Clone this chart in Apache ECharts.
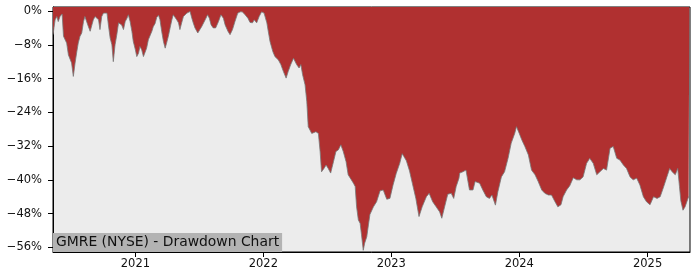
<!DOCTYPE html>
<html>
<head>
<meta charset="utf-8">
<script src="https://cdn.jsdelivr.net/npm/echarts@6/dist/echarts.min.js"></script>
<style>html,body{margin:0;padding:0;background:#fff;}#c{width:700px;height:280px;}</style>
</head>
<body>
<div id="c"></div>
<script>
const dates = [
'2020-05-11','2020-05-17','2020-05-22','2020-05-26','2020-05-31','2020-06-06','2020-06-10','2020-06-14','2020-06-19','2020-06-24',
'2020-06-29','2020-07-03','2020-07-08','2020-07-13','2020-07-18','2020-07-22','2020-07-27','2020-08-01','2020-08-06','2020-08-10',
'2020-08-15','2020-08-20','2020-08-25','2020-08-29','2020-09-03','2020-09-08','2020-09-13','2020-09-18','2020-09-22','2020-09-27',
'2020-10-02','2020-10-07','2020-10-12','2020-10-16','2020-10-21','2020-10-26','2020-10-30','2020-11-04','2020-11-09','2020-11-14',
'2020-11-18','2020-11-23','2020-11-28','2020-12-03','2020-12-08','2020-12-12','2020-12-17','2020-12-22','2020-12-26',
'2021-01-01','2021-01-05','2021-01-10','2021-01-14','2021-01-19','2021-01-24','2021-01-29','2021-02-02','2021-02-07','2021-02-12',
'2021-02-17','2021-02-21','2021-02-26','2021-03-03','2021-03-08','2021-03-12','2021-03-17','2021-03-22','2021-03-27','2021-03-31',
'2021-04-05','2021-04-10','2021-04-15','2021-04-19','2021-04-24','2021-04-29','2021-05-04','2021-05-08','2021-05-13','2021-05-18',
'2021-05-23','2021-05-28','2021-06-01','2021-06-06','2021-06-11','2021-06-15','2021-06-20','2021-06-28','2021-07-04','2021-07-09',
'2021-07-19','2021-07-26','2021-07-31','2021-08-05','2021-08-11','2021-08-18','2021-08-26','2021-09-02','2021-09-09','2021-09-14',
'2021-09-22','2021-09-28','2021-10-05','2021-10-12','2021-10-20','2021-10-27','2021-11-02','2021-11-10','2021-11-18','2021-11-24',
'2021-12-01','2021-12-06','2021-12-13','2021-12-20','2021-12-27',
'2022-01-01','2022-01-03','2022-01-11','2022-01-15','2022-01-20','2022-01-28','2022-02-03','2022-02-13','2022-02-20','2022-02-27',
'2022-03-07','2022-03-13','2022-03-20','2022-03-28','2022-04-01','2022-04-06','2022-04-13','2022-04-18','2022-04-23','2022-04-30',
'2022-05-05','2022-05-09','2022-05-14','2022-05-19','2022-05-24','2022-05-31','2022-06-07','2022-06-12','2022-06-16','2022-06-23',
'2022-06-29','2022-07-05','2022-07-12','2022-07-20','2022-07-27','2022-08-03','2022-08-10','2022-08-17','2022-08-25','2022-08-31',
'2022-09-05','2022-09-15','2022-09-20','2022-09-24','2022-09-29','2022-10-04','2022-10-08','2022-10-13','2022-10-17','2022-10-23',
'2022-10-28','2022-11-01','2022-11-11','2022-11-20','2022-11-30','2022-12-09','2022-12-19','2022-12-28',
'2023-01-06','2023-01-15','2023-01-25','2023-02-01','2023-02-06','2023-02-13','2023-02-22','2023-03-02','2023-03-12','2023-03-21',
'2023-03-30','2023-04-11','2023-04-19','2023-04-29','2023-05-09','2023-05-19','2023-05-25','2023-06-02','2023-06-11','2023-06-21',
'2023-06-28','2023-07-05','2023-07-13','2023-07-15','2023-07-24','2023-08-02','2023-08-12','2023-08-22','2023-08-28','2023-09-10',
'2023-09-19','2023-09-29','2023-10-08','2023-10-15','2023-10-25','2023-11-01','2023-11-11','2023-11-20','2023-11-30','2023-12-09',
'2023-12-19','2023-12-24',
'2024-01-01','2024-01-08','2024-01-17','2024-01-27','2024-02-05','2024-02-15','2024-02-24','2024-03-05','2024-03-14','2024-03-24',
'2024-04-02','2024-04-12','2024-04-20','2024-04-29','2024-05-05','2024-05-15','2024-05-24','2024-06-03','2024-06-13','2024-06-22',
'2024-07-01','2024-07-11','2024-07-20','2024-07-30','2024-08-09','2024-08-18','2024-08-28','2024-09-06','2024-09-16','2024-09-25',
'2024-10-05','2024-10-14','2024-10-24','2024-11-02','2024-11-12','2024-11-21','2024-12-01','2024-12-10','2024-12-20','2024-12-29',
'2025-01-08','2025-01-18','2025-01-28','2025-02-06','2025-02-16','2025-02-25','2025-03-05','2025-03-12','2025-03-21','2025-03-28',
'2025-04-02','2025-04-06','2025-04-12','2025-04-18','2025-04-28','2025-04-30'
];
const drawdown = [
-5.6,-2.1,-1.3,-2.5,-1.3,-0.7,-6.0,-6.4,-7.6,-10.4,
-10.8,-12.3,-15.5,-12.3,-9.6,-7.6,-6.0,-5.2,-2.5,-1.3,
-1.7,-3.7,-4.8,-4.7,-2.1,-1.3,-0.9,-2.1,-4.4,-1.3,
-0.5,-0.1,-0.5,-3.3,-6.4,-8.0,-12.0,-8.0,-5.6,-2.8,
-2.5,-3.3,-4.4,-2.5,-1.7,-0.9,-2.5,-4.8,-7.2,
-9.2,-10.8,-10.0,-8.4,-9.2,-10.8,-10.4,-8.8,-6.8,-6.4,
-4.8,-3.7,-3.0,-1.5,-1.0,-2.0,-4.8,-7.2,-8.8,-7.6,
-6.0,-4.0,-2.1,-0.9,-1.3,-2.1,-2.8,-4.4,-2.8,-1.3,
-0.9,-0.5,-0.1,-0.1,-1.7,-2.8,-4.0,-5.2,-4.4,-3.7,
-2.1,-0.9,-1.7,-3.3,-4.0,-4.0,-2.5,-0.9,-1.7,-3.3,
-4.8,-5.6,-4.4,-2.5,-0.5,-0.2,-0.2,-0.9,-1.7,-2.7,
-2.8,-2.1,-2.8,-1.3,-0.2,
0.0,-0.5,-2.8,-4.8,-7.2,-9.6,-10.8,-11.6,-12.7,-14.3,
-15.9,-14.3,-12.7,-11.2,-10.8,-12.7,-13.5,-12.7,-15.1,-17.5,
-21.5,-27.4,-28.2,-29.0,-28.6,-28.6,-29.0,-33.3,-38.1,-37.3,
-36.5,-37.3,-38.4,-35.7,-33.3,-32.9,-31.7,-33.3,-35.7,-38.8,
-38.8,-40.8,-41.6,-46.4,-49.5,-50.3,-53.0,-56.7,-55.0,-53.5,
-50.5,-48.2,-46.4,-45.2,-42.6,-42.4,-44.6,-44.4,
-41.2,-38.5,-36.1,-33.8,-34.5,-35.5,-37.9,-40.8,-44.4,-48.7,
-46.4,-44.0,-43.2,-45.2,-46.4,-47.6,-49.1,-46.4,-43.4,-43.2,
-44.4,-41.6,-39.6,-38.4,-38.1,-37.7,-42.4,-42.4,-40.4,-40.8,
-42.4,-44.0,-44.4,-43.6,-46.0,-42.8,-39.3,-38.1,-34.9,-31.3,
-29.0,-27.4,
-29.0,-30.5,-32.1,-34.1,-37.7,-38.8,-40.4,-42.4,-43.2,-43.6,
-43.6,-45.2,-46.4,-45.9,-44.0,-42.4,-41.4,-39.5,-40.0,-40.0,
-39.3,-36.1,-34.9,-36.1,-38.8,-38.1,-37.3,-37.7,-32.5,-32.1,
-34.9,-35.3,-36.5,-37.3,-39.3,-40.0,-39.6,-41.2,-44.0,-45.2,
-45.9,-44.0,-44.4,-44.0,-41.6,-39.3,-37.3,-38.1,-38.8,-37.3,
-41.6,-45.0,-47.2,-46.4,-44.0,-43.9
];
const yearTicks = ['2021-01-01','2022-01-01','2023-01-01','2024-01-01','2025-01-01'];
const yTicks = [0,-8,-16,-24,-32,-40,-48,-56];
const xRange = ['2020-05-11','2025-05-02'];
const chartTitle = 'GMRE (NYSE) - Drawdown Chart';

const ts = d => Date.UTC(+d.slice(0,4), +d.slice(5,7) - 1, +d.slice(8,10));
const chart = echarts.init(document.getElementById('c'), null, {renderer:'canvas'});
const tickTs = yearTicks.map(ts);
const font = 'DejaVu Sans';
chart.setOption({
  animation: false,
  backgroundColor: '#ffffff',
  title: {
    text: chartTitle,
    left: 53, top: 233,
    backgroundColor: '#b3b3b3',
    padding: [2, 3, 2, 3],
    textStyle: {fontFamily: font, fontSize: 13.9, fontWeight: 'normal', color: '#111', lineHeight: 15}
  },
  grid: {left: 53, right: 10, top: 7, bottom: 28, show: true, backgroundColor: '#ececec', borderColor: '#000', borderWidth: 1},
  xAxis: {
    type: 'value',
    min: ts(xRange[0]), max: ts(xRange[1]),
    axisLine: {show: true, onZero: false, lineStyle: {color: '#000', width: 1}},
    axisTick: {show: true, customValues: tickTs, length: 5, lineStyle: {color: '#000'}},
    axisLabel: {customValues: tickTs, margin: 6, fontFamily: font, fontSize: 11.5, color: '#111',
      formatter: v => String(new Date(v).getUTCFullYear())},
    splitLine: {show: false}
  },
  yAxis: {
    type: 'value',
    min: -57.1, max: 0.95,
    axisLine: {show: true, lineStyle: {color: '#000', width: 1}},
    axisTick: {show: true, customValues: yTicks, length: 5, lineStyle: {color: '#000'}},
    axisLabel: {customValues: yTicks, margin: 11, fontFamily: font, fontSize: 11.5, color: '#111',
      formatter: v => v === 0 ? '0%' : '\u2212' + Math.abs(v) + '%'},
    splitLine: {show: false}
  },
  series: [{
    type: 'line',
    data: dates.map((d, i) => [ts(d), drawdown[i]]),
    showSymbol: false,
    lineStyle: {color: 'rgba(120,120,120,0.8)', width: 1},
    areaStyle: {color: '#b03030', opacity: 1, origin: 'end'},
    z: 1
  }]
});
</script>
</body>
</html>
